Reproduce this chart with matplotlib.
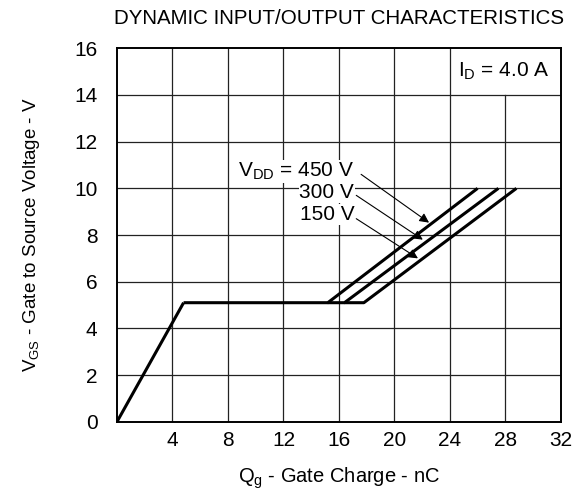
import matplotlib
matplotlib.use('Agg')
import matplotlib.pyplot as plt

# gate charge curves (Qg in nC, VGS in V)
qg_rise = [0.0, 4.8]
vgs_rise = [0.0, 5.1]

qg_450 = [4.8, 15.2, 26.0]
vgs_450 = [5.1, 5.1, 10.0]
qg_300 = [15.2, 16.4, 27.5]
vgs_300 = [5.1, 5.1, 10.0]
qg_150 = [16.4, 17.8, 28.8]
vgs_150 = [5.1, 5.1, 10.0]

xticks = [4, 8, 12, 16, 20, 24, 28, 32]
yticks = [0, 2, 4, 6, 8, 10, 12, 14, 16]

# arrow (start, tip) for each VDD label
arrows = [((17.6, 10.6), (22.5, 8.53)),
          ((17.25, 9.7), (22.05, 7.8)),
          ((17.25, 8.7), (21.7, 7.0))]
labels = [r'V$_{\rm DD}$ = 450 V', '300 V', '150 V']
label_y = [10.72, 9.82, 8.88]

plt.rcParams['font.family'] = ['Liberation Sans', 'DejaVu Sans']
plt.rcParams['mathtext.fontset'] = 'custom'
plt.rcParams['mathtext.rm'] = 'Liberation Sans'
plt.rcParams['mathtext.it'] = 'Liberation Sans'

fig = plt.figure(figsize=(5.86, 4.91), dpi=100)
ax = fig.add_axes([0.1997, 0.1411, 0.7573, 0.7605])

ax.set_xlim(0, 32)
ax.set_ylim(0, 16)

# grid drawn by hand so the x=28 line stops under the ID box
for x in xticks[:-1]:
    top = 14 / 16 if x == 28 else 1
    ax.axvline(x, ymax=top, color='#222222', lw=0.9, zorder=1)
for y in yticks[1:-1]:
    ax.axhline(y, color='#222222', lw=0.9, zorder=1)

for q, v in [(qg_rise, vgs_rise), (qg_450, vgs_450), (qg_300, vgs_300), (qg_150, vgs_150)]:
    ax.plot(q, v, color='black', lw=2.2, solid_capstyle='butt', zorder=3)

for (start, tip) in arrows:
    ax.annotate('', xy=tip, xytext=start,
                arrowprops=dict(arrowstyle='-|>', color='black', lw=0.8,
                                mutation_scale=14, shrinkA=0, shrinkB=0), zorder=4)
for lab, yy in zip(labels, label_y):
    ax.text(17.1, yy, lab, ha='right', va='center', fontsize=15,
            bbox=dict(facecolor='white', edgecolor='none', pad=0.5), zorder=4)

ax.text(27.9, 15.0, r'I$_{\rm D}$ = 4.0 A', ha='center', va='center', fontsize=15)

ax.set_xticks(xticks)
ax.set_yticks(yticks)
ax.tick_params(axis='both', length=0, labelsize=15)
ax.tick_params(axis='x', pad=7)
ax.tick_params(axis='y', pad=14)
for s in ax.spines.values():
    s.set_linewidth(1.4)

ax.set_xlabel(r'Q$_{\rm g}$ - Gate Charge - nC', fontsize=14.5, labelpad=11)
ax.set_ylabel(r'V$_{\rm GS}$ - Gate to Source Voltage - V', fontsize=13.5, labelpad=23)
fig.text(0.5785, 0.963, 'DYNAMIC INPUT/OUTPUT CHARACTERISTICS', ha='center', va='center', fontsize=14.8)

fig.savefig('out.png', dpi=100)
